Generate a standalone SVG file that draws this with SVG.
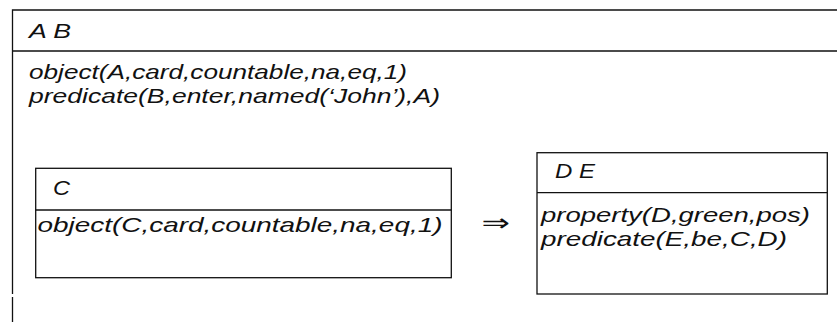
<svg xmlns="http://www.w3.org/2000/svg" width="837" height="322" viewBox="0 0 837 322">
  <style>
    .frame { fill: none; stroke: #111; stroke-width: 1.3; }
    .t { font-family: "Liberation Sans", Arial, sans-serif; font-style: italic; font-size: 21px; fill: #111; }
    .op { font-family: "DejaVu Sans", sans-serif; font-size: 24px; fill: #111; }
  </style>
  <rect width="837" height="322" fill="#fff"/>

  <!-- outer DRS box: A B -->
  <g id="drs-outer">
    <path class="frame" d="M12.5 294 V10 H837 M12.5 297 V322 M12.5 51 H837"/>
    <text class="t" x="29" y="37.5" textLength="42" lengthAdjust="spacingAndGlyphs">A B</text>
    <text class="t" x="29" y="78.5" textLength="378" lengthAdjust="spacingAndGlyphs">object(A,card,countable,na,eq,1)</text>
    <text class="t" x="29" y="103" textLength="411" lengthAdjust="spacingAndGlyphs">predicate(B,enter,named(‘John’),A)</text>
  </g>

  <!-- antecedent box: C -->
  <g id="drs-c">
    <rect class="frame" x="35.7" y="168.3" width="415.6" height="109.4"/>
    <line class="frame" x1="35.7" y1="210" x2="451.3" y2="210"/>
    <text class="t" x="53" y="194.5" textLength="17" lengthAdjust="spacingAndGlyphs">C</text>
    <text class="t" x="37.5" y="231.5" textLength="405" lengthAdjust="spacingAndGlyphs">object(C,card,countable,na,eq,1)</text>
  </g>

  <!-- implication -->
  <g id="connectors">
    <text class="op" x="481.5" y="231" textLength="28.5" lengthAdjust="spacingAndGlyphs">⇒</text>
  </g>

  <!-- consequent box: D E -->
  <g id="drs-de">
    <rect class="frame" x="537" y="152.7" width="290.3" height="141.3"/>
    <line class="frame" x1="537" y1="192.7" x2="827.3" y2="192.7"/>
    <text class="t" x="555" y="177.5" textLength="40" lengthAdjust="spacingAndGlyphs">D E</text>
    <text class="t" x="541" y="221.5" textLength="269" lengthAdjust="spacingAndGlyphs">property(D,green,pos)</text>
    <text class="t" x="541" y="245.5" textLength="246" lengthAdjust="spacingAndGlyphs">predicate(E,be,C,D)</text>
  </g>
</svg>
